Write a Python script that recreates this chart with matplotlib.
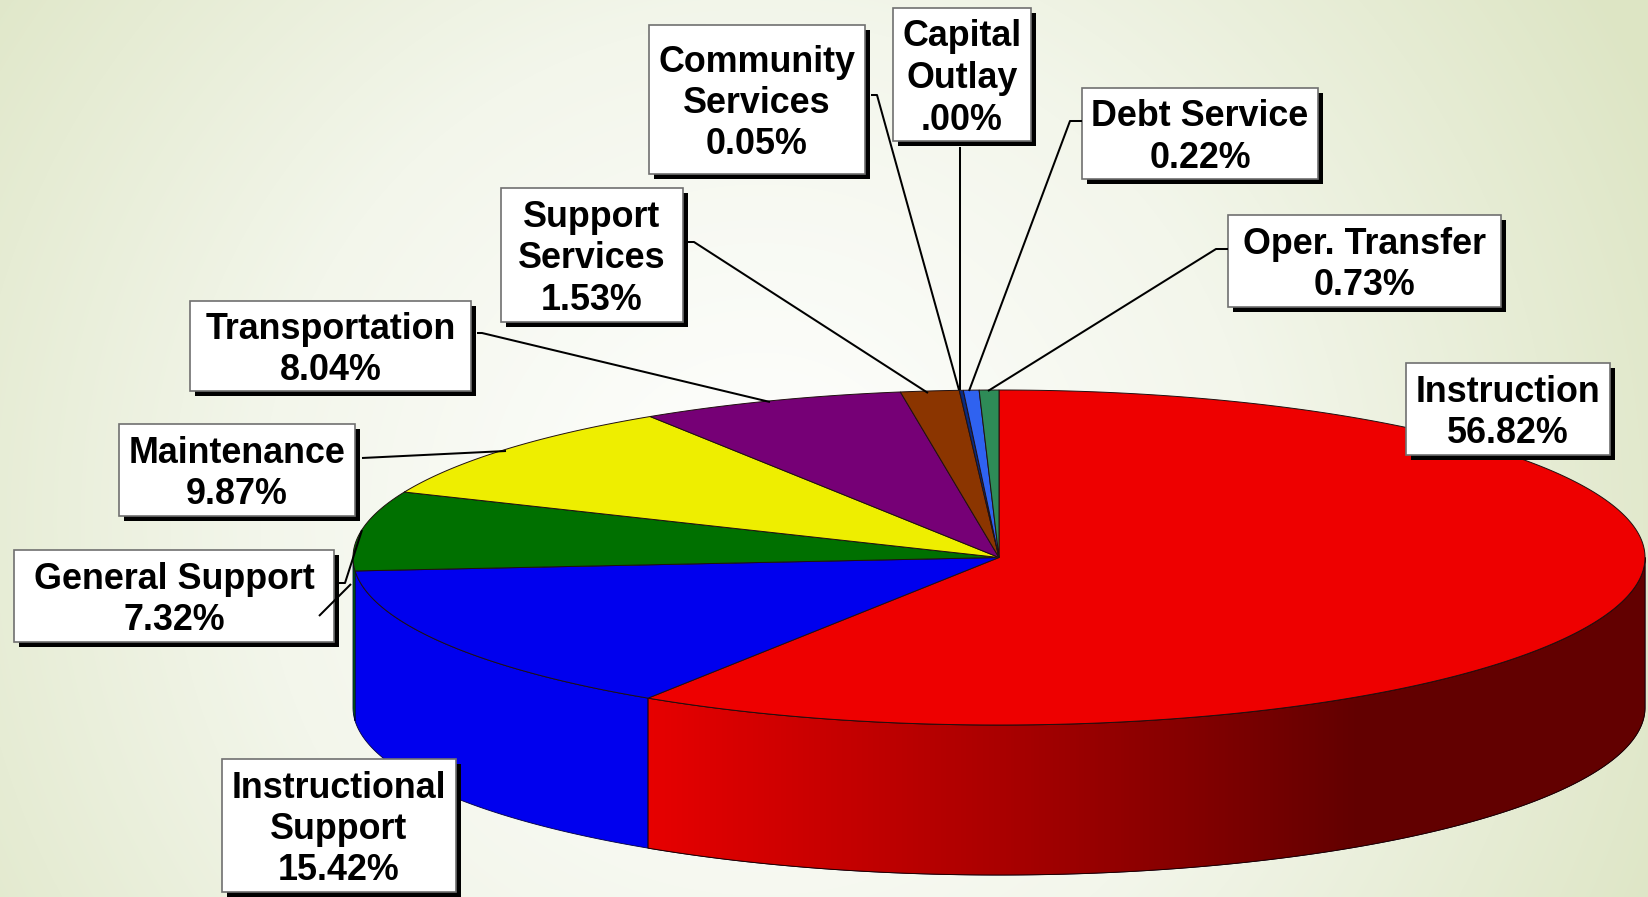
import numpy as np
import matplotlib.pyplot as plt
from matplotlib.colors import LinearSegmentedColormap
from matplotlib.patches import Polygon, Rectangle

plt.rcParams['font.family'] = ['Liberation Sans', 'DejaVu Sans']

# label text, top-right round the pie clockwise
labels = [['Instruction', '56.82%'],
          ['Instructional', 'Support', '15.42%'],
          ['General Support', '7.32%'],
          ['Maintenance', '9.87%'],
          ['Transportation', '8.04%'],
          ['Support', 'Services', '1.53%'],
          ['Community', 'Services', '0.05%'],
          ['Capital', 'Outlay', '.00%'],
          ['Debt Service', '0.22%'],
          ['Oper. Transfer', '0.73%']]

# the 3d perspective of the original skews slices, so these are the shares
# as measured on the drawn ellipse, not the printed percentages
drawn_pct = [59.14, 14.58, 7.67, 9.53, 6.64, 1.46, 0.10, 0.00, 0.39, 0.49]
colors = ['#EE0000', '#0000EE', '#007000', '#EEEE00', '#760076',
          '#8B3500', '#0A2A80', '#0A2A80', '#2F62F0', '#2E8B57']

# label boxes: left, right, top, bottom
boxes = [(1406, 1610, 363, 455), (222, 456, 759, 892), (14, 334, 550, 642),
         (119, 355, 424, 516), (190, 471, 301, 391), (501, 683, 188, 322),
         (649, 865, 25, 174), (893, 1031, 8, 141), (1082, 1318, 88, 179),
         (1228, 1501, 215, 307)]

# leader lines
leaders = [[(362, 458), (506, 451)],
           [(339, 583), (345, 583), (362, 530)],
           [(319, 616), (351, 584)],
           [(477, 333), (482, 333), (770, 402)],
           [(684, 242), (694, 242), (928, 393)],
           [(871, 95), (877, 95), (959, 390)],
           [(960, 147), (960, 390)],
           [(1082, 121), (1070, 121), (969, 391)],
           [(1228, 249), (1216, 249), (988, 391)]]

W, H = 1649, 897
cx, cy, rx, ry, depth = 999, 557.5, 646, 167.5, 150


def rim(a, b, drop=0):
    # angles in degrees clockwise from 12 o'clock
    t = np.radians(np.linspace(a, b, max(int(abs(b - a) * 4), 2)))
    return np.column_stack([cx + rx * np.sin(t), cy - ry * np.cos(t) + drop])


fig = plt.figure(figsize=(W / 100, H / 100), dpi=100)
ax = fig.add_axes([0, 0, 1, 1])

# background glow
yy, xx = np.mgrid[0:H, 0:W]
t = np.clip(np.hypot((xx - 760) / 1000, (yy - 520) / 1000), 0, 1)
bg = LinearSegmentedColormap.from_list('bg', ['#FFFFFF', '#F3F6EB', '#DDE5C4'])
ax.imshow(t, cmap=bg, vmin=0, vmax=1.0, extent=(0, W, H, 0), aspect='auto', zorder=0)

# side walls
ends = np.cumsum(drawn_pct) * 3.6
starts = ends - np.array(drawn_pct) * 3.6
wall_red = LinearSegmentedColormap.from_list(
    'wall', [(0, '#E80000'), (0.5, '#AA0000'), (1, '#620000')])
for a, b, c in zip(starts, ends, colors):
    lo, hi = max(a, 90), min(b, 270)
    if hi <= lo:
        continue
    pts = np.vstack([rim(lo, hi), rim(hi, lo, depth)])
    poly = Polygon(pts, closed=True, fc=c, ec='#000040', lw=0.6, zorder=2)
    ax.add_patch(poly)
    if c == '#EE0000':
        # red wall gets darker toward the right
        grad = np.clip((np.linspace(0, W, W) - 640) / 720, 0, 1)[None, :]
        im = ax.imshow(grad, cmap=wall_red, vmin=0, vmax=1, extent=(0, W, H, 0),
                       aspect='auto', zorder=2.1)
        im.set_clip_path(poly)
        ax.add_patch(Polygon(pts, closed=True, fc='none', ec='#200000', lw=0.7, zorder=2.2))

# top of the pie
for a, b, c in zip(starts, ends, colors):
    if b <= a:
        continue
    pts = np.vstack([[(cx, cy)], rim(a, b)])
    ax.add_patch(Polygon(pts, closed=True, fc=c, ec='#201010', lw=0.7, zorder=3))

# boxes and text
for (l, r, top, bot), lines in zip(boxes, labels):
    ax.add_patch(Rectangle((l + 5.5, top + 5.5), r - l, bot - top, fc='black', ec='none', zorder=4))
    ax.add_patch(Rectangle((l, top), r - l, bot - top, fc='white', ec='#707070', lw=1.2, zorder=5))
    mid = (top + bot) / 2
    for i, s in enumerate(lines):
        ax.text((l + r) / 2, mid + (i - (len(lines) - 1) / 2) * 41.5 + 13.5, s,
                ha='center', va='baseline', fontsize=25.8, fontweight='bold',
                color='black', zorder=6)

for pts in leaders:
    xs, ys = zip(*pts)
    ax.plot(xs, ys, color='black', lw=1.45, zorder=7, solid_capstyle='butt')

ax.set_xlim(0, W)
ax.set_ylim(H, 0)
ax.axis('off')
plt.savefig('out.png', dpi=100)
